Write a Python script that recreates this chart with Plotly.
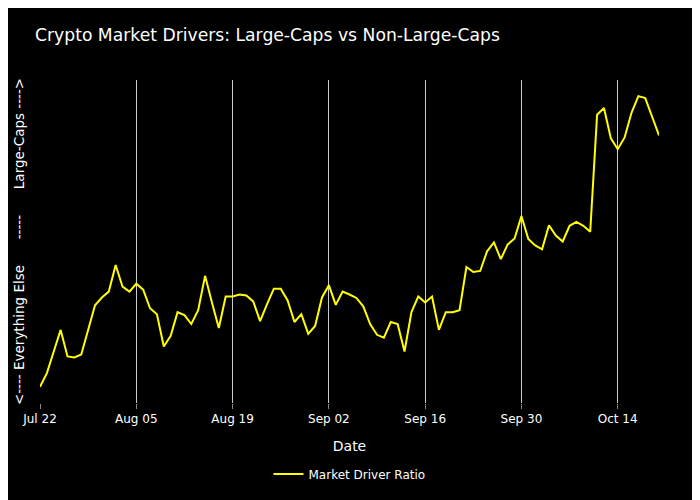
import pandas as pd
import plotly.graph_objects as go

start_date = "2024-07-22"
n_days = 91
dates = pd.date_range(start_date, periods=n_days, freq="D")

ratio = [
    0.09, 0.23, 0.45, 0.67, 0.40, 0.39, 0.42, 0.67, 0.92, 1.00,
    1.06, 1.33, 1.11, 1.06, 1.14, 1.08, 0.89, 0.83, 0.50, 0.61,
    0.85, 0.82, 0.73, 0.87, 1.22, 0.95, 0.69, 1.01, 1.01, 1.03,
    1.02, 0.96, 0.76, 0.93, 1.09, 1.09, 0.97, 0.75, 0.83, 0.63,
    0.71, 1.00, 1.125, 0.925, 1.06, 1.03, 0.995, 0.91, 0.73, 0.62,
    0.59, 0.75, 0.73, 0.45, 0.85, 1.01, 0.95, 1.01, 0.67, 0.85,
    0.85, 0.87, 1.31, 1.26, 1.27, 1.47, 1.56, 1.39, 1.54, 1.60,
    1.83, 1.595, 1.53, 1.49, 1.735, 1.63, 1.57, 1.73, 1.77, 1.73,
    1.67, 2.86, 2.93, 2.62, 2.51, 2.63, 2.88, 3.05, 3.03, 2.84,
    2.65,
]

title_text = "Crypto Market Drivers: Large-Caps vs Non-Large-Caps"
y_title = "<---- Everything Else      -----      Large-Caps ---->"
x_title = "Date"
series_name = "Market Driver Ratio"

FONT = "Verdana, DejaVu Sans, sans-serif"

fig = go.Figure()
fig.add_trace(go.Scatter(
    x=dates, y=ratio, mode="lines", name=series_name,
    line=dict(color="yellow", width=2),
))

fig.update_layout(
    width=700, height=500,
    paper_bgcolor="black", plot_bgcolor="black",
    font=dict(family=FONT, color="white", size=12),
    title=dict(text=title_text, x=27 / 700, xanchor="left",
               y=0.946, yanchor="middle",
               font=dict(family=FONT, size=17.2, color="white")),
    margin=dict(l=32, r=49, t=72, b=105),
    showlegend=True,
    legend=dict(orientation="h", x=0.5, xanchor="center", y=-0.175, yanchor="top",
                font=dict(color="white")),
)
fig.update_xaxes(
    title=dict(text=x_title, font=dict(size=14)),
    showgrid=True, gridcolor="#cccccc", gridwidth=1,
    tick0=start_date, dtick=14 * 86400000, tickformat="%b %d",
    ticks="outside", ticklen=5, tickcolor="#888888",
    zeroline=False, showline=False, automargin=False,
)
fig.update_yaxes(
    title=dict(text=y_title, font=dict(size=13.5), standoff=11),
    showgrid=False, showticklabels=False, zeroline=False, showline=False,
    automargin=False,
)

fig.write_html("out.html")
